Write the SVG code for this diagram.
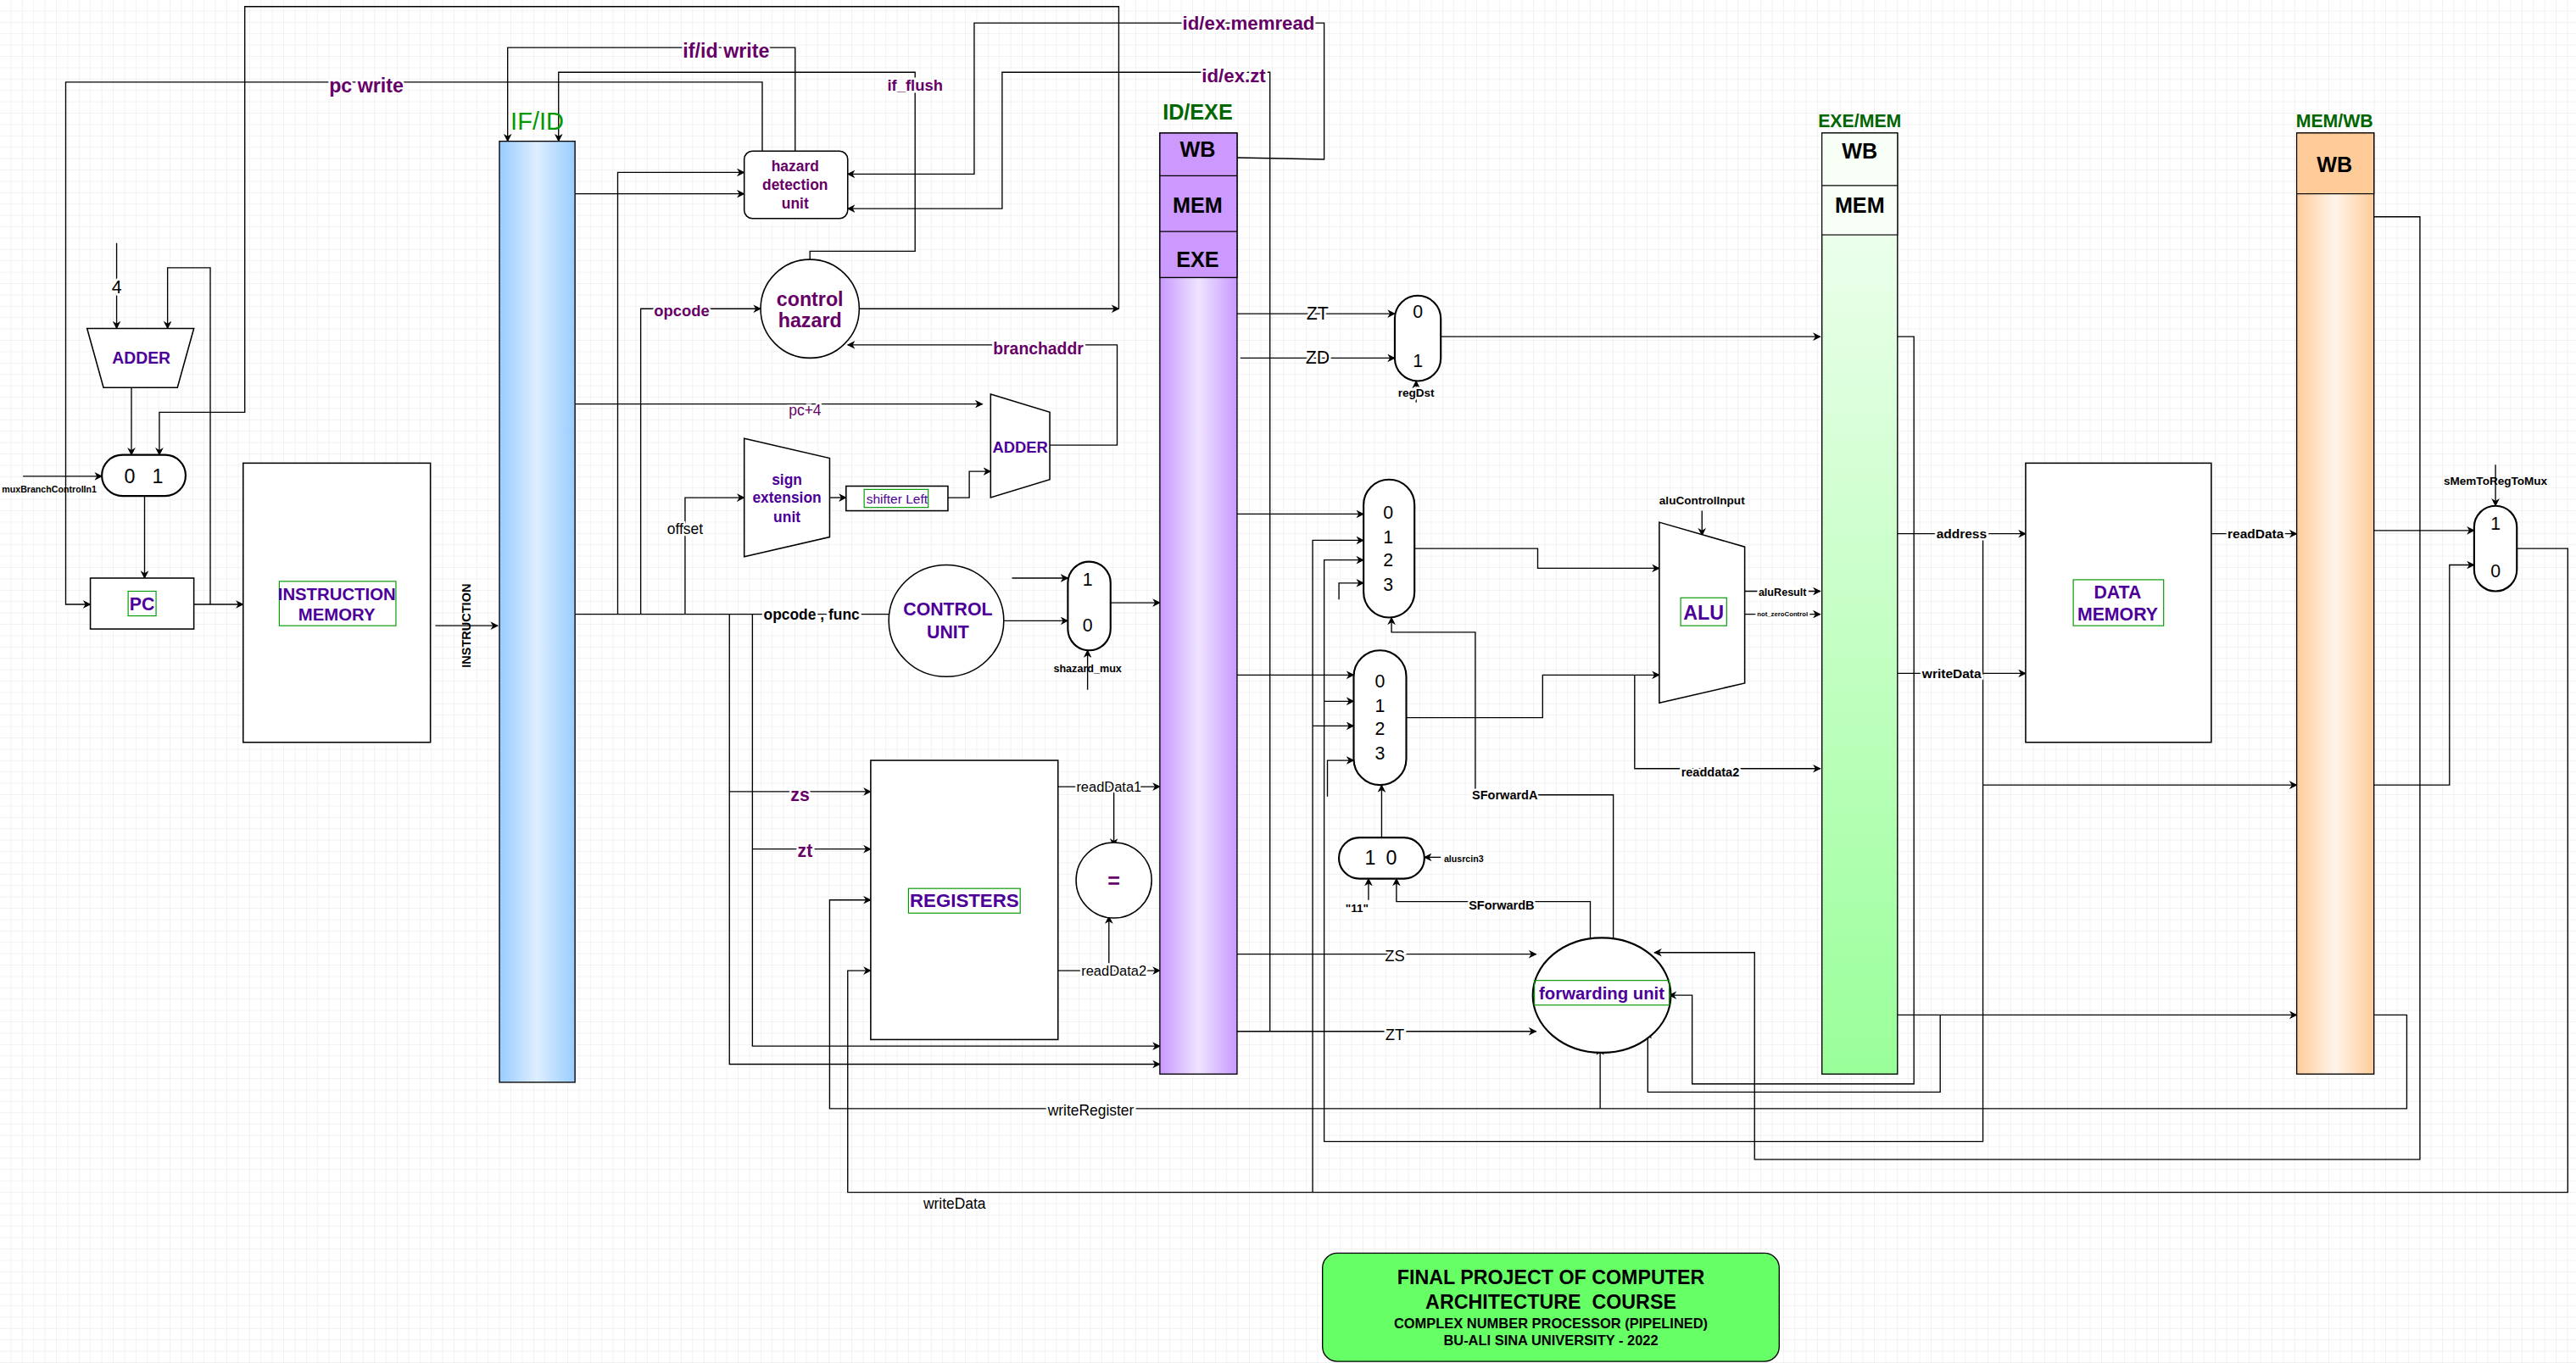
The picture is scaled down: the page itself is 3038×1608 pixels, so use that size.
<svg xmlns="http://www.w3.org/2000/svg" width="3038" height="1608" viewBox="0 0 3038 1608">
<defs>
<pattern id="grid" width="13.4" height="13.4" patternUnits="userSpaceOnUse">
<path d="M13.4 0V13.4H0" fill="none" stroke="#e6e6e6" stroke-width="1"/>
</pattern>
<marker id="ar" viewBox="0 0 10 10" refX="9" refY="5" markerWidth="5" markerHeight="5" markerUnits="userSpaceOnUse" orient="auto">
<path d="M0 0L10 5L0 10L3 5Z" fill="#000"/>
</marker>
<linearGradient id="gIF" x1="0" x2="1" y1="0" y2="0"><stop offset="0" stop-color="#99ccff"/><stop offset="0.5" stop-color="#ddeeff"/><stop offset="1" stop-color="#99ccff"/></linearGradient>
<linearGradient id="gID" x1="0" x2="1" y1="0" y2="0"><stop offset="0" stop-color="#c899ff"/><stop offset="0.5" stop-color="#efe4ff"/><stop offset="1" stop-color="#c899ff"/></linearGradient>
<linearGradient id="gEM" x1="0" x2="0" y1="0" y2="1"><stop offset="0" stop-color="#f5fff5"/><stop offset="1" stop-color="#99ff99"/></linearGradient>
<linearGradient id="gMW" x1="0" x2="1" y1="0" y2="0"><stop offset="0" stop-color="#ffcc99"/><stop offset="0.5" stop-color="#fff4ea"/><stop offset="1" stop-color="#ffcc99"/></linearGradient>
<style>
.c{fill:none;stroke:#000;stroke-width:0.7}
.a{fill:none;stroke:#000;stroke-width:0.7;marker-end:url(#ar)}
.s{fill:#fff;stroke:#000;stroke-width:0.8}
.s2{fill:#fff;stroke:#000;stroke-width:1.1}
text{font-family:"Liberation Sans",Arial,sans-serif;text-anchor:middle;dominant-baseline:central;white-space:pre}
.p{fill:#660066;font-weight:bold}
.v{fill:#4c0099;font-weight:bold}
.k{fill:#000}
.kb{fill:#000;font-weight:bold}
.g{fill:#006600;font-weight:bold}
.lb{stroke:#fff;stroke-width:2.5;paint-order:stroke}
.gb{fill:none;stroke:#009900;stroke-width:0.6}
</style>
</defs>
<rect width="3038" height="1608" fill="#fff"/>
<rect width="3038" height="1608" fill="url(#grid)"/>
<g transform="scale(1.9375)">
<g id="connectors">
<path class="a" d="M71 148V200"/>
<path class="a" d="M128 368V163H102V200"/>
<path class="a" d="M80 236V277"/>
<path class="a" d="M681 188V4H149V251H97V277"/>
<path class="a" d="M523 188H681"/>
<path class="a" d="M14 290H62"/>
<path class="a" d="M88 302V352"/>
<path class="a" d="M464 92V50H40V368H55"/>
<path class="a" d="M118 368H148"/>
<path class="a" d="M265 381H303"/>
<path class="a" d="M484 92V29H309V86"/>
<path class="a" d="M493 158V153H557V44H340V86"/>
<path class="a" d="M376 374V105H453"/>
<path class="a" d="M350 118H453"/>
<path class="a" d="M753 96L806 97V14H593V106H516"/>
<path class="a" d="M773 628V44H610V127H516"/>
<path class="a" d="M390 374V188H463"/>
<path class="a" d="M639 271H680V210H516"/>
<path class="a" d="M350 246H598"/>
<path class="a" d="M417 374V303H453"/>
<path class="a" d="M505 303H515"/>
<path class="a" d="M577 303H590V287H603"/>
<path class="c" d="M350 374H541"/>
<path class="a" d="M444 374V648H706"/>
<path class="a" d="M458 374V637H706"/>
<path class="a" d="M444 482H530"/>
<path class="a" d="M458 517H530"/>
<path class="a" d="M616 352H650"/>
<path class="a" d="M611 378H650"/>
<path class="a" d="M676 367H706"/>
<path class="a" d="M662 420V396"/>
<path class="a" d="M644 479H706"/>
<path class="a" d="M678 479V515"/>
<path class="a" d="M644 591H706"/>
<path class="a" d="M675 591V558"/>
<path class="a" d="M1445 618H1465V675H505V548H530"/>
<path class="a" d="M974 675V638"/>
<path class="a" d="M1532 334H1563V726H516V591H530"/>
<path class="a" d="M753 191H849"/>
<path class="a" d="M755 218H849"/>
<path class="a" d="M877 205H1108"/>
<path class="a" d="M862 245V232"/>
<path class="a" d="M753 313H830"/>
<path class="a" d="M799 726V329H830"/>
<path class="a" d="M1207 325V695H806V341H830"/>
<path class="a" d="M815 365V355H830"/>
<path class="a" d="M753 411H824"/>
<path class="a" d="M806 427H824"/>
<path class="a" d="M799 442H824"/>
<path class="a" d="M808 485V463H824"/>
<path class="a" d="M982 572V484H898V385H847V376"/>
<path class="a" d="M861 334H936V346H1010"/>
<path class="a" d="M856 437H939V411H1010"/>
<path class="a" d="M995 411V468H1108"/>
<path class="a" d="M841 510V478"/>
<path class="a" d="M877 522H867"/>
<path class="a" d="M833 548V535"/>
<path class="a" d="M968 572V549H850V535"/>
<path class="a" d="M753 581H935"/>
<path class="a" d="M753 628H935"/>
<path class="a" d="M1445 132H1473V706H1068V580H1007"/>
<path class="a" d="M1155 205H1165V660H1030V606H1016"/>
<path class="a" d="M1181 618V665H1003V628"/>
<path class="a" d="M1062 360H1108"/>
<path class="a" d="M1062 374H1108"/>
<path class="a" d="M1036 311V326"/>
<path class="a" d="M1155 325H1233"/>
<path class="a" d="M1155 410H1233"/>
<path class="a" d="M1207 478H1398"/>
<path class="a" d="M1155 618H1398"/>
<path class="a" d="M1346 325H1398"/>
<path class="a" d="M1445 323H1506"/>
<path class="a" d="M1445 478H1491V344H1506"/>
<path class="a" d="M1519 283V308"/>
</g>

<g id="labels" font-size="8">
<text x="71" y="175" class="k lb" font-size="11">4</text>
<text x="30" y="298" class="kb" font-size="5.5">muxBranchControlIn1</text>
<text x="223" y="52" class="p lb" font-size="12">pc write</text>
<text x="442" y="31" class="p lb" font-size="12">if/id write</text>
<text x="557" y="52" class="p lb" font-size="9.5">if_flush</text>
<text x="760" y="14" class="p lb" font-size="11.5">id/ex.memread</text>
<text x="751" y="46" class="p lb" font-size="11.5">id/ex.zt</text>
<text x="415" y="189" class="p lb" font-size="9.5">opcode</text>
<text x="632" y="212" class="p lb" font-size="10">branchaddr</text>
<text x="490" y="250" class="lb" fill="#660066" font-size="9">pc+4</text>
<text x="417" y="322" class="k lb" font-size="9">offset</text>
<text x="494" y="374" class="kb lb" font-size="9">opcode , func</text>
<text x="662" y="407" class="kb" font-size="6.5">shazard_mux</text>
<text x="487" y="484" class="p lb" font-size="11">zs</text>
<text x="490" y="518" class="p lb" font-size="11">zt</text>
<text x="675" y="479" class="k lb" font-size="8.5">readData1</text>
<text x="678" y="591" class="k lb" font-size="8.5">readData2</text>
<text x="664" y="676" class="k lb" font-size="9">writeRegister</text>
<text x="581" y="733" class="k lb" font-size="9">writeData</text>
<text x="802" y="191" class="k lb" font-size="11">ZT</text>
<text x="802" y="218" class="k lb" font-size="11">ZD</text>
<text x="862" y="239" class="kb lb" font-size="7">regDst</text>
<text x="916" y="484" class="kb lb" font-size="7.5">SForwardA</text>
<text x="914" y="551" class="kb lb" font-size="7.5">SForwardB</text>
<text x="891" y="523" class="kb" font-size="5.5">alusrcin3</text>
<text x="826" y="553" class="kb lb" font-size="7">"11"</text>
<text x="849" y="582" class="k lb" font-size="9.5">ZS</text>
<text x="849" y="630" class="k lb" font-size="9.5">ZT</text>
<text x="1041" y="470" class="kb lb" font-size="7.5">readdata2</text>
<text x="1036" y="305" class="kb" font-size="7">aluControlInput</text>
<text x="1085" y="361" class="kb lb" font-size="6.5">aluResult</text>
<text x="1085" y="374" class="kb lb" font-size="4">not_zeroControl</text>
<text x="1194" y="325" class="kb lb" font-size="8">address</text>
<text x="1188" y="410" class="kb lb" font-size="8">writeData</text>
<text x="1373" y="325" class="kb lb" font-size="8">readData</text>
<text x="1519" y="293" class="kb" font-size="7">sMemToRegToMux</text>
</g>

<g id="adder1"><path class="s" d="M53 200H118L108 236H63Z"/><text x="86" y="218" class="v" font-size="10">ADDER</text></g>
<g id="mux_pc"><rect class="s2" x="62" y="277" width="51" height="25" rx="12.5"/><text x="79" y="290" class="k" font-size="12">0</text><text x="96" y="290" class="k" font-size="12">1</text></g>
<g id="pc"><rect class="s" x="55" y="352" width="63" height="31"/><rect class="gb" x="78" y="360" width="17" height="15"/><text x="86.5" y="368" class="v" font-size="11">PC</text></g>
<g id="imem"><rect class="s" x="148" y="282" width="114" height="170"/><rect class="gb" x="170" y="354" width="71" height="27"/><text x="205" y="362" class="v" font-size="10.5">INSTRUCTION</text><text x="205" y="374" class="v" font-size="10.5">MEMORY</text></g>
<g id="instr_label"><text x="284" y="381" class="kb" font-size="7.5" transform="rotate(-90 284 381)">INSTRUCTION</text></g>
<g id="ifid"><rect x="304" y="86" width="46" height="573" fill="url(#gIF)" stroke="#000" stroke-width="0.7"/><text x="327" y="74" fill="#009900" font-size="15">IF/ID</text></g>
<g id="hazard_unit"><rect class="s" x="453" y="92" width="63" height="41" rx="5"/><text x="484" y="101" class="p" font-size="9">hazard</text><text x="484" y="112.5" class="p" font-size="9">detection</text><text x="484" y="124" class="p" font-size="9">unit</text></g>
<g id="control_hazard"><circle class="s" cx="493" cy="188" r="30"/><text x="493" y="182" class="p" font-size="12">control</text><text x="493" y="195" class="p" font-size="12">hazard</text></g>
<g id="branch_adder"><path class="s" d="M603 240L639 251V292L603 303Z"/><text x="621" y="272" class="v" font-size="9.5">ADDER</text></g>
<g id="sign_ext"><path class="s" d="M453 267L505 279V327L453 339Z"/><text x="479" y="292" class="v" font-size="9">sign</text><text x="479" y="303" class="v" font-size="9">extension</text><text x="479" y="315" class="v" font-size="9">unit</text></g>
<g id="shifter"><rect class="s" x="515" y="296" width="62" height="15"/><rect class="gb" x="526" y="298" width="39" height="11"/><text x="546" y="303.5" fill="#4c0099" font-size="8">shifter Left</text></g>
<g id="control_unit"><ellipse class="s" cx="576" cy="378" rx="35" ry="34"/><text x="577" y="371" class="v" font-size="11">CONTROL</text><text x="577" y="385" class="v" font-size="11">UNIT</text></g>
<g id="shazard_mux"><rect class="s2" x="650" y="342" width="26" height="54" rx="13"/><text x="662" y="353" class="k" font-size="11">1</text><text x="662" y="381" class="k" font-size="11">0</text></g>
<g id="registers"><rect class="s" x="530" y="463" width="114" height="170"/><rect class="gb" x="553" y="541" width="68" height="15"/><text x="587" y="548.5" class="v" font-size="11.5">REGISTERS</text></g>
<g id="equal"><circle class="s" cx="678" cy="536" r="23"/><text x="678" y="536" class="p" font-size="13">=</text></g>
<g id="idexe"><rect x="706" y="81" width="47" height="573" fill="url(#gID)" stroke="#000" stroke-width="0.7"/><rect x="706" y="81" width="47" height="88" fill="#cc99ff" stroke="#000" stroke-width="0.7"/><path class="c" d="M706 107H753M706 141H753"/><text x="729" y="91" class="kb" font-size="13">WB</text><text x="729" y="125" class="kb" font-size="13">MEM</text><text x="729" y="158" class="kb" font-size="13">EXE</text><text x="729" y="68" class="g" font-size="13">ID/EXE</text></g>
<g id="regdst_mux"><rect class="s2" x="849" y="180" width="28" height="52" rx="14"/><text x="863" y="190" class="k" font-size="11">0</text><text x="863" y="220" class="k" font-size="11">1</text></g>
<g id="muxA"><rect class="s2" x="830" y="292" width="31" height="84" rx="15.5"/><text x="845" y="312" class="k" font-size="11">0</text><text x="845" y="327" class="k" font-size="11">1</text><text x="845" y="341" class="k" font-size="11">2</text><text x="845" y="356" class="k" font-size="11">3</text></g>
<g id="muxB"><rect class="s2" x="824" y="396" width="32" height="82" rx="16"/><text x="840" y="415" class="k" font-size="11">0</text><text x="840" y="430" class="k" font-size="11">1</text><text x="840" y="444" class="k" font-size="11">2</text><text x="840" y="459" class="k" font-size="11">3</text></g>
<g id="alusrc_mux"><rect class="s2" x="815" y="510" width="52" height="25" rx="12.5"/><text x="834" y="522.5" class="k" font-size="12">1</text><text x="847" y="522.5" class="k" font-size="12">0</text></g>
<g id="forwarding"><ellipse class="s2" cx="975" cy="606" rx="42" ry="35"/><rect class="gb" x="934" y="597" width="82" height="15"/><text x="975" y="605" class="v" font-size="10.5">forwarding unit</text></g>
<g id="alu"><path class="s" d="M1010 318L1062 333V416L1010 428Z"/><rect class="gb" x="1023" y="364" width="28" height="17"/><text x="1037" y="373" class="v" font-size="12">ALU</text></g>
<g id="exemem"><rect x="1109" y="81" width="46" height="573" fill="url(#gEM)" stroke="#000" stroke-width="0.7"/><rect x="1109" y="81" width="46" height="62" fill="#f7fff7" stroke="#000" stroke-width="0.6"/><path class="c" d="M1109 113H1155"/><text x="1132" y="92" class="kb" font-size="13">WB</text><text x="1132" y="125" class="kb" font-size="13">MEM</text><text x="1132" y="74" class="g" font-size="11">EXE/MEM</text></g>
<g id="datamem"><rect class="s" x="1233" y="282" width="113" height="170"/><rect class="gb" x="1262" y="353" width="55" height="28"/><text x="1289" y="361" class="v" font-size="11">DATA</text><text x="1289" y="374" class="v" font-size="11">MEMORY</text></g>
<g id="memwb"><rect x="1398" y="81" width="47" height="573" fill="url(#gMW)" stroke="#000" stroke-width="0.7"/><rect x="1398" y="81" width="47" height="37" fill="#ffcc99" stroke="#000" stroke-width="0.6"/><text x="1421" y="100" class="kb" font-size="13">WB</text><text x="1421" y="74" class="g" font-size="11">MEM/WB</text></g>
<g id="wb_mux"><rect class="s2" x="1506" y="308" width="26" height="52" rx="13"/><text x="1519" y="319" class="k" font-size="11">1</text><text x="1519" y="348" class="k" font-size="11">0</text></g>
<g id="title"><rect x="805" y="763" width="278" height="66" rx="9" fill="#66ff66" stroke="#000" stroke-width="0.7"/><text x="944" y="778" class="kb" font-size="12">FINAL PROJECT OF COMPUTER</text><text x="944" y="793" class="kb" font-size="12">ARCHITECTURE  COURSE</text><text x="944" y="805.5" class="kb" font-size="8.5">COMPLEX NUMBER PROCESSOR (PIPELINED)</text><text x="944" y="816" class="kb" font-size="8.5">BU-ALI SINA UNIVERSITY - 2022</text></g>
</g>
</svg>
